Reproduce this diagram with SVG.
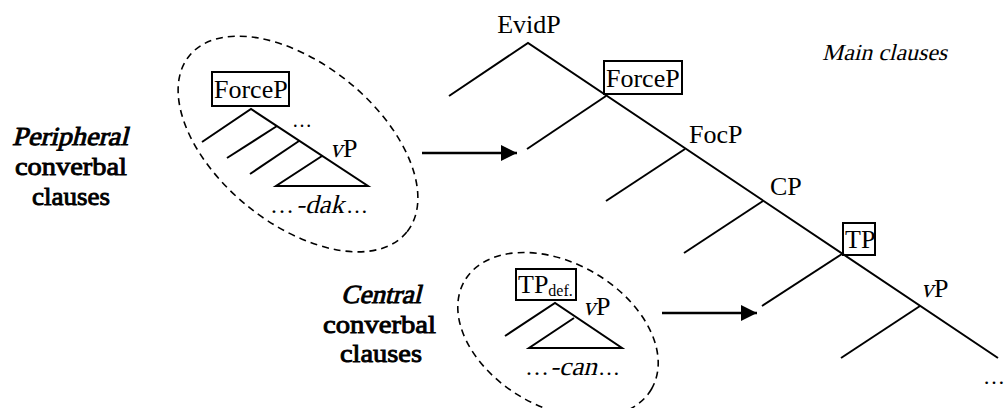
<svg xmlns="http://www.w3.org/2000/svg" width="1006" height="408" viewBox="0 0 1006 408">
<defs>
<marker id="ah" markerUnits="userSpaceOnUse" markerWidth="18" markerHeight="16" refX="16" refY="8" orient="auto">
<path d="M0,0 L16,8 L0,16 Z" fill="#000"/>
</marker>
</defs>
<style>
text{font-family:"Liberation Serif","Times New Roman",serif;fill:#000;font-style:normal;font-weight:normal}
.lbl{font-size:26px}
.bd{stroke:#000;stroke-width:0.9px}
.ln{stroke:#000;stroke-width:2;fill:none}
.box{stroke:#000;stroke-width:2;fill:none}
.dash{stroke:#000;stroke-width:1.6;fill:none;stroke-dasharray:7,5}
.arr{stroke:#000;stroke-width:2.5;fill:none}
</style>
<rect width="1006" height="408" fill="#fff"/>
<g id="main-tree">
<polyline class="ln" points="449,96 528,43 998,358"/>
<line class="ln" x1="606" y1="96" x2="527" y2="149"/>
<line class="ln" x1="685" y1="149" x2="606" y2="201"/>
<line class="ln" x1="763" y1="201" x2="684" y2="253"/>
<line class="ln" x1="842" y1="254" x2="762" y2="306"/>
<line class="ln" x1="920" y1="306" x2="841" y2="358"/>
<text class="lbl" x="529" y="33" text-anchor="middle">EvidP</text>
<rect class="box" x="604" y="61" width="78" height="33"/>
<text class="lbl" x="606" y="87">ForceP</text>
<text class="lbl" x="689" y="143">FocP</text>
<text class="lbl" x="770" y="195">CP</text>
<rect class="box" x="843" y="223" width="32" height="32"/>
<text class="lbl" x="845" y="248">TP</text>
<g id="main-vP">
<text class="lbl" transform="translate(921 297) skewX(-14)" textLength="12" lengthAdjust="spacingAndGlyphs">v</text>
<text class="lbl" x="934" y="297">P</text>
</g>
<text x="983" y="384" font-size="22">…</text>
<text font-size="23" transform="translate(822 60) skewX(-14)" textLength="125" lengthAdjust="spacingAndGlyphs">Main clauses</text>
</g>
<g id="peripheral">
<ellipse class="dash" cx="298" cy="144" rx="140" ry="80" transform="rotate(39 298 144)"/>
<rect class="box" x="212" y="72" width="77" height="34"/>
<text class="lbl" x="214" y="98">ForceP</text>
<polyline class="ln" points="202,142 251,109 368,186 276,186 322,156"/>
<line class="ln" x1="277" y1="126" x2="227" y2="158"/>
<line class="ln" x1="299" y1="141" x2="250" y2="174"/>
<text x="292" y="127" font-size="20">…</text>
<text class="lbl" transform="translate(330 157) skewX(-14)" textLength="12" lengthAdjust="spacingAndGlyphs">v</text>
<text class="lbl" x="343" y="157">P</text>
<text x="270" y="213" font-size="24">…</text>
<text class="lbl" transform="translate(296 213) skewX(-14)" textLength="48" lengthAdjust="spacingAndGlyphs">-dak</text>
<text x="346" y="213" font-size="22">…</text>
<text class="lbl bd" transform="translate(12 145) skewX(-14)" textLength="116" lengthAdjust="spacingAndGlyphs">Peripheral</text>
<text class="lbl bd" x="15" y="175" textLength="112" lengthAdjust="spacingAndGlyphs">converbal</text>
<text class="lbl bd" x="32" y="205" textLength="78" lengthAdjust="spacingAndGlyphs">clauses</text>
</g>
<g id="central">
<ellipse class="dash" cx="558" cy="335" rx="108" ry="72" transform="rotate(30 558 335)"/>
<rect class="box" x="516" y="269" width="60" height="31"/>
<text class="lbl" x="518" y="293">TP<tspan font-size="16" dy="3">def.</tspan></text>
<polyline class="ln" points="505,336 555,303 622,348 529,348 574,318"/>
<text class="lbl" transform="translate(583 315) skewX(-14)" textLength="12" lengthAdjust="spacingAndGlyphs">v</text>
<text class="lbl" x="596" y="315">P</text>
<text x="525" y="375" font-size="24">…</text>
<text class="lbl" transform="translate(550 375) skewX(-14)" textLength="47" lengthAdjust="spacingAndGlyphs">-can</text>
<text x="598" y="375" font-size="22">…</text>
<text class="lbl bd" transform="translate(341 303) skewX(-14)" textLength="80" lengthAdjust="spacingAndGlyphs">Central</text>
<text class="lbl bd" x="323" y="333" textLength="113" lengthAdjust="spacingAndGlyphs">converbal</text>
<text class="lbl bd" x="340" y="362" textLength="82" lengthAdjust="spacingAndGlyphs">clauses</text>
</g>
<g id="connectors">
<line class="arr" x1="422" y1="153" x2="517" y2="153" marker-end="url(#ah)"/>
<line class="arr" x1="662" y1="313" x2="757" y2="313" marker-end="url(#ah)"/>
</g>
</svg>
